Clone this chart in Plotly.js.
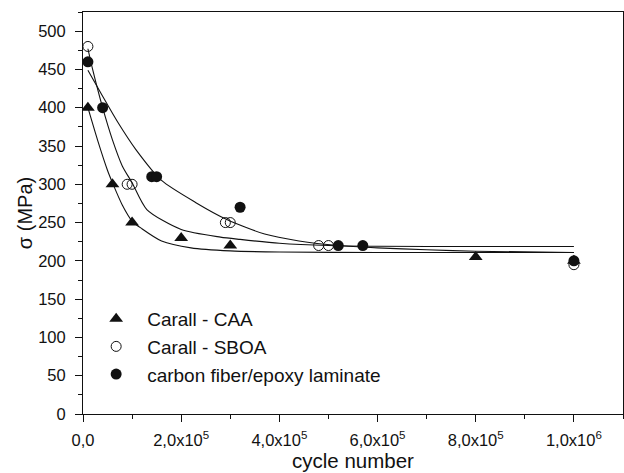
<!DOCTYPE html>
<html>
<head>
<meta charset="utf-8">
<script src="https://cdn.plot.ly/plotly-3.0.1.min.js"></script>
<style>html,body{margin:0;padding:0;background:#fff;}#chart{width:624px;height:473px;}</style>
</head>
<body>
<div id="chart"></div>
<script>
// Measured points
const caaX = [1e4, 6e4, 1e5, 2e5, 3e5, 8e5, 1e6];
const caaY = [400, 300, 250, 230, 220, 205, 200];
const sboaX = [1e4, 9e4, 1e5, 2.9e5, 3e5, 4.8e5, 5e5, 1e6];
const sboaY = [480, 300, 300, 250, 250, 220, 220, 195];
const cfX = [1e4, 4e4, 1.4e5, 1.5e5, 3.2e5, 5.2e5, 5.7e5, 1e6];
const cfY = [460, 400, 310, 310, 270, 220, 220, 200];

// Fitted curves
const caaFitX = [1e4, 3e4, 5e4, 6e4, 8e4, 1e5, 1.2e5, 1.6e5, 2.2e5, 3e5, 4e5, 6e5, 8e5, 1e6];
const caaFitY = [400, 357, 318, 302, 273, 252, 242, 226, 217, 213, 211.5, 211, 211, 211];
const sboaFitX = [1e4, 2e4, 4e4, 6e4, 8e4, 1e5, 1.3e5, 2e5, 2.8e5, 3.2e5, 4e5, 5e5, 6e5, 8e5, 1e6];
const sboaFitY = [477, 449, 400, 358, 324, 302, 267, 241, 231, 228, 223, 220, 219, 218.7, 218.7];
const cfFitX = [1e4, 4e4, 7e4, 1.07e5, 1.6e5, 2.3e5, 2.93e5, 3.7e5, 4.4e5, 5.2e5, 6e5, 7e5, 8e5, 1e6];
const cfFitY = [449, 415, 382, 346, 305, 276, 254, 235, 226, 220, 217, 214.5, 212.5, 211];

// Labels
const seriesNames = ['Carall - CAA', 'Carall - SBOA', 'carbon fiber/epoxy laminate'];
const xTickVals = [0, 2e5, 4e5, 6e5, 8e5, 1e6];
const xTickText = ['0,0', '2,0x10<sup>5</sup>', '4,0x10<sup>5</sup>', '6,0x10<sup>5</sup>', '8,0x10<sup>5</sup>', '1,0x10<sup>6</sup>'];
const xTitle = 'cycle number';
const yTitle = 'σ (MPa)';

const ink = '#111';
const lineStyle = {color: ink, width: 1.1, shape: 'spline', smoothing: 0.7};
const traces = [
  {x: caaFitX, y: caaFitY, mode: 'lines', line: lineStyle, showlegend: false, hoverinfo: 'skip'},
  {x: sboaFitX, y: sboaFitY, mode: 'lines', line: lineStyle, showlegend: false, hoverinfo: 'skip'},
  {x: cfFitX, y: cfFitY, mode: 'lines', line: lineStyle, showlegend: false, hoverinfo: 'skip'},
  {x: caaX, y: caaY, mode: 'markers', name: seriesNames[0],
   marker: {symbol: 'triangle-up', size: 12, color: ink}},
  {x: sboaX, y: sboaY, mode: 'markers', name: seriesNames[1],
   marker: {symbol: 'circle-open', size: 10, color: ink, line: {width: 1}}},
  {x: cfX, y: cfY, mode: 'markers', name: seriesNames[2],
   marker: {symbol: 'circle', size: 11, color: ink}}
];

const font = {family: 'Liberation Sans, Arial, sans-serif', color: ink};
const layout = {
  width: 624, height: 473,
  margin: {l: 83, r: 1.3, t: 12, b: 59},
  paper_bgcolor: '#fff', plot_bgcolor: '#fff',
  font: Object.assign({size: 16}, font),
  showlegend: true,
  legend: {x: 0.004, y: 0.284, xanchor: 'left', yanchor: 'top',
           font: Object.assign({size: 19}, font), bgcolor: 'rgba(0,0,0,0)',
           tracegroupgap: 0, itemwidth: 52},
  xaxis: {range: [0, 1.1e6], tickmode: 'array', tickvals: xTickVals, ticktext: xTickText,
          ticks: 'outside', ticklen: 7, tickwidth: 1, tickcolor: ink, ticklabelstandoff: 4,
          minor: {tickmode: 'linear', tick0: 0, dtick: 1e5, ticks: 'outside', ticklen: 4, tickcolor: ink, showgrid: false},
          showline: true, linecolor: ink, linewidth: 1, mirror: true,
          showgrid: false, zeroline: false,
          tickfont: Object.assign({size: 16.5}, font),
          title: {text: xTitle, font: Object.assign({size: 20.5}, font), standoff: 4}},
  xaxis2: {overlaying: 'x', side: 'top', range: [0, 1.1e6], tickmode: 'linear', tick0: 0, dtick: 1e5,
           ticks: 'inside', ticklen: 3, tickcolor: ink, showticklabels: false,
           showline: false, showgrid: false, zeroline: false},
  yaxis: {range: [0, 525], tickmode: 'linear', tick0: 0, dtick: 50,
          ticks: 'outside', ticklen: 7, tickwidth: 1, tickcolor: ink, ticklabelstandoff: 6,
          minor: {tickmode: 'linear', tick0: 0, dtick: 25, ticks: 'outside', ticklen: 4, tickcolor: ink, showgrid: false},
          showline: true, linecolor: ink, linewidth: 1, mirror: true,
          showgrid: false, zeroline: false,
          tickfont: Object.assign({size: 16.5}, font),
          title: {text: yTitle, font: Object.assign({size: 20}, font), standoff: 0}}
};
Plotly.newPlot('chart', traces, layout, {staticPlot: true, displayModeBar: false});
</script>
</body>
</html>
